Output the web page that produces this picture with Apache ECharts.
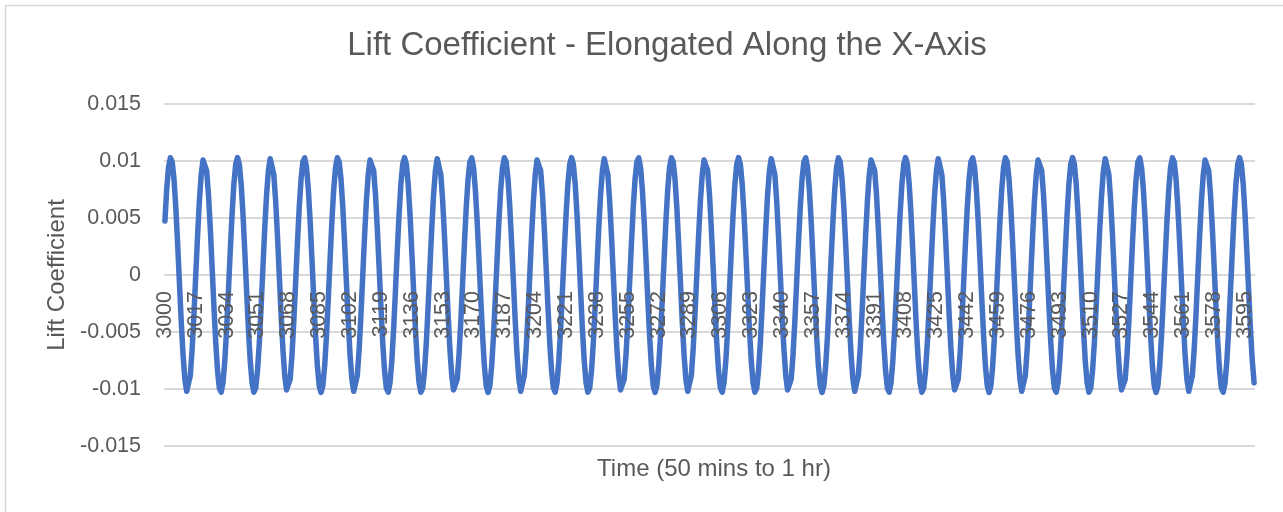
<!DOCTYPE html>
<html>
<head>
<meta charset="utf-8">
<script src="https://cdn.jsdelivr.net/npm/echarts@6/dist/echarts.min.js"></script>
<style>
html,body{margin:0;padding:0;background:#fff;}
#chart{width:1283px;height:512px;}
</style>
</head>
<body>
<div id="chart"></div>
<script>
const chartTitle = 'Lift Coefficient - Elongated Along the X-Axis';
const xAxisTitle = 'Time (50 mins to 1 hr)';
const yAxisTitle = 'Lift Coefficient';
const timeStart = 3000;
const timeEnd = 3600;
const yTickValues = [-0.015, -0.01, -0.005, 0, 0.005, 0.01, 0.015];
const yTickLabels = ['-0.015', '-0.01', '-0.005', '0', '0.005', '0.01', '0.015'];

// lift coefficient, one value per second from 3000 to 3600
const liftCoefficient = [
0.00474,0.00753,0.00945,0.01028,0.00992,0.00841,0.00594,0.00278,-0.00070,-0.00410,
-0.00703,-0.00915,-0.01020,-0.01008,-0.00880,-0.00650,-0.00345,0.00000,0.00345,0.00650,
0.00880,0.01008,0.01020,0.00915,0.00703,0.00410,0.00070,-0.00278,-0.00594,-0.00841,
-0.00992,-0.01028,-0.00945,-0.00753,-0.00474,-0.00140,0.00210,0.00535,0.00799,0.00971,
0.01030,0.00971,0.00799,0.00535,0.00210,-0.00140,-0.00474,-0.00753,-0.00945,-0.01028,
-0.00992,-0.00841,-0.00594,-0.00278,0.00070,0.00410,0.00703,0.00915,0.01020,0.01008,
0.00880,0.00650,0.00345,0.00000,-0.00345,-0.00650,-0.00880,-0.01008,-0.01020,-0.00915,
-0.00703,-0.00410,-0.00070,0.00278,0.00594,0.00841,0.00992,0.01028,0.00945,0.00753,
0.00474,0.00140,-0.00210,-0.00535,-0.00799,-0.00971,-0.01030,-0.00971,-0.00799,-0.00535,
-0.00210,0.00140,
0.00474,0.00753,0.00945,0.01028,0.00992,0.00841,0.00594,0.00278,-0.00070,-0.00410,
-0.00703,-0.00915,-0.01020,-0.01008,-0.00880,-0.00650,-0.00345,0.00000,0.00345,0.00650,
0.00880,0.01008,0.01020,0.00915,0.00703,0.00410,0.00070,-0.00278,-0.00594,-0.00841,
-0.00992,-0.01028,-0.00945,-0.00753,-0.00474,-0.00140,0.00210,0.00535,0.00799,0.00971,
0.01030,0.00971,0.00799,0.00535,0.00210,-0.00140,-0.00474,-0.00753,-0.00945,-0.01028,
-0.00992,-0.00841,-0.00594,-0.00278,0.00070,0.00410,0.00703,0.00915,0.01020,0.01008,
0.00880,0.00650,0.00345,0.00000,-0.00345,-0.00650,-0.00880,-0.01008,-0.01020,-0.00915,
-0.00703,-0.00410,-0.00070,0.00278,0.00594,0.00841,0.00992,0.01028,0.00945,0.00753,
0.00474,0.00140,-0.00210,-0.00535,-0.00799,-0.00971,-0.01030,-0.00971,-0.00799,-0.00535,
-0.00210,0.00140,
0.00474,0.00753,0.00945,0.01028,0.00992,0.00841,0.00594,0.00278,-0.00070,-0.00410,
-0.00703,-0.00915,-0.01020,-0.01008,-0.00880,-0.00650,-0.00345,0.00000,0.00345,0.00650,
0.00880,0.01008,0.01020,0.00915,0.00703,0.00410,0.00070,-0.00278,-0.00594,-0.00841,
-0.00992,-0.01028,-0.00945,-0.00753,-0.00474,-0.00140,0.00210,0.00535,0.00799,0.00971,
0.01030,0.00971,0.00799,0.00535,0.00210,-0.00140,-0.00474,-0.00753,-0.00945,-0.01028,
-0.00992,-0.00841,-0.00594,-0.00278,0.00070,0.00410,0.00703,0.00915,0.01020,0.01008,
0.00880,0.00650,0.00345,0.00000,-0.00345,-0.00650,-0.00880,-0.01008,-0.01020,-0.00915,
-0.00703,-0.00410,-0.00070,0.00278,0.00594,0.00841,0.00992,0.01028,0.00945,0.00753,
0.00474,0.00140,-0.00210,-0.00535,-0.00799,-0.00971,-0.01030,-0.00971,-0.00799,-0.00535,
-0.00210,0.00140,
0.00474,0.00753,0.00945,0.01028,0.00992,0.00841,0.00594,0.00278,-0.00070,-0.00410,
-0.00703,-0.00915,-0.01020,-0.01008,-0.00880,-0.00650,-0.00345,0.00000,0.00345,0.00650,
0.00880,0.01008,0.01020,0.00915,0.00703,0.00410,0.00070,-0.00278,-0.00594,-0.00841,
-0.00992,-0.01028,-0.00945,-0.00753,-0.00474,-0.00140,0.00210,0.00535,0.00799,0.00971,
0.01030,0.00971,0.00799,0.00535,0.00210,-0.00140,-0.00474,-0.00753,-0.00945,-0.01028,
-0.00992,-0.00841,-0.00594,-0.00278,0.00070,0.00410,0.00703,0.00915,0.01020,0.01008,
0.00880,0.00650,0.00345,0.00000,-0.00345,-0.00650,-0.00880,-0.01008,-0.01020,-0.00915,
-0.00703,-0.00410,-0.00070,0.00278,0.00594,0.00841,0.00992,0.01028,0.00945,0.00753,
0.00474,0.00140,-0.00210,-0.00535,-0.00799,-0.00971,-0.01030,-0.00971,-0.00799,-0.00535,
-0.00210,0.00140,
0.00474,0.00753,0.00945,0.01028,0.00992,0.00841,0.00594,0.00278,-0.00070,-0.00410,
-0.00703,-0.00915,-0.01020,-0.01008,-0.00880,-0.00650,-0.00345,0.00000,0.00345,0.00650,
0.00880,0.01008,0.01020,0.00915,0.00703,0.00410,0.00070,-0.00278,-0.00594,-0.00841,
-0.00992,-0.01028,-0.00945,-0.00753,-0.00474,-0.00140,0.00210,0.00535,0.00799,0.00971,
0.01030,0.00971,0.00799,0.00535,0.00210,-0.00140,-0.00474,-0.00753,-0.00945,-0.01028,
-0.00992,-0.00841,-0.00594,-0.00278,0.00070,0.00410,0.00703,0.00915,0.01020,0.01008,
0.00880,0.00650,0.00345,0.00000,-0.00345,-0.00650,-0.00880,-0.01008,-0.01020,-0.00915,
-0.00703,-0.00410,-0.00070,0.00278,0.00594,0.00841,0.00992,0.01028,0.00945,0.00753,
0.00474,0.00140,-0.00210,-0.00535,-0.00799,-0.00971,-0.01030,-0.00971,-0.00799,-0.00535,
-0.00210,0.00140,
0.00474,0.00753,0.00945,0.01028,0.00992,0.00841,0.00594,0.00278,-0.00070,-0.00410,
-0.00703,-0.00915,-0.01020,-0.01008,-0.00880,-0.00650,-0.00345,0.00000,0.00345,0.00650,
0.00880,0.01008,0.01020,0.00915,0.00703,0.00410,0.00070,-0.00278,-0.00594,-0.00841,
-0.00992,-0.01028,-0.00945,-0.00753,-0.00474,-0.00140,0.00210,0.00535,0.00799,0.00971,
0.01030,0.00971,0.00799,0.00535,0.00210,-0.00140,-0.00474,-0.00753,-0.00945,-0.01028,
-0.00992,-0.00841,-0.00594,-0.00278,0.00070,0.00410,0.00703,0.00915,0.01020,0.01008,
0.00880,0.00650,0.00345,0.00000,-0.00345,-0.00650,-0.00880,-0.01008,-0.01020,-0.00915,
-0.00703,-0.00410,-0.00070,0.00278,0.00594,0.00841,0.00992,0.01028,0.00945,0.00753,
0.00474,0.00140,-0.00210,-0.00535,-0.00799,-0.00971,-0.01030,-0.00971,-0.00799,-0.00535,
-0.00210,0.00140,
0.00474,0.00753,0.00945,0.01028,0.00992,0.00841,0.00594,0.00278,-0.00070,-0.00410,
-0.00703,-0.00915,-0.01020,-0.01008,-0.00880,-0.00650,-0.00345,0.00000,0.00345,0.00650,
0.00880,0.01008,0.01020,0.00915,0.00703,0.00410,0.00070,-0.00278,-0.00594,-0.00841,
-0.00992,-0.01028,-0.00945,-0.00753,-0.00474,-0.00140,0.00210,0.00535,0.00799,0.00971,
0.01030,0.00971,0.00799,0.00535,0.00210,-0.00140,-0.00474,-0.00753,-0.00945
];

const timeCategories = [];
for (let t = timeStart; t <= timeEnd; t++) timeCategories.push(String(t));

const FONT = 'Liberation Sans, Arial, sans-serif';
const TEXT = '#595959';
const GRID = '#D9D9D9';

const chart = echarts.init(document.getElementById('chart'), null, {renderer: 'canvas'});
chart.setOption({
  animation: false,
  backgroundColor: '#ffffff',
  graphic: [{
    type: 'rect', z: -10, silent: true,
    shape: {x: 5.5, y: 5.5, width: 1320, height: 540},
    style: {fill: 'none', stroke: GRID, lineWidth: 1.5}
  }],
  title: [{
    text: chartTitle,
    left: 662, top: 24, textAlign: 'center',
    textStyle: {fontFamily: FONT, fontSize: 33, fontWeight: 'normal', color: TEXT}
  }, {
    text: xAxisTitle,
    left: 709, top: 452, textAlign: 'center',
    textStyle: {fontFamily: FONT, fontSize: 24, fontWeight: 'normal', color: TEXT}
  }],
  grid: {left: 164, right: 28, top: 104, bottom: 66, containLabel: false},
  xAxis: {
    type: 'category',
    data: timeCategories,
    boundaryGap: true,
    position: 'bottom',
    offset: -171,
    z: 5,
    axisLine: {show: false, onZero: false},
    axisTick: {show: false},
    axisLabel: {
      interval: 16, rotate: 90, margin: 16,
      fontFamily: FONT, fontSize: 21.5, color: TEXT
    },
    splitLine: {show: false}
  },
  yAxis: {
    type: 'value',
    min: yTickValues[0], max: yTickValues[yTickValues.length - 1], interval: 0.005,
    name: yAxisTitle, nameLocation: 'middle', nameGap: 95,
    nameTextStyle: {fontFamily: FONT, fontSize: 24, color: TEXT},
    axisLine: {show: false},
    axisTick: {show: false},
    axisLabel: {
      margin: 23, fontFamily: FONT, fontSize: 21.5, color: TEXT,
      formatter: function (v) {
        for (let i = 0; i < yTickValues.length; i++) {
          if (Math.abs(v - yTickValues[i]) < 1e-9) return yTickLabels[i];
        }
        return '';
      }
    },
    splitLine: {lineStyle: {color: GRID, width: 1.8}}
  },
  series: [{
    type: 'line',
    data: liftCoefficient,
    showSymbol: false,
    symbol: 'none',
    smooth: false,
    lineStyle: {color: '#4472C4', width: 5.5, cap: 'round', join: 'round'},
    z: 2
  }]
});
</script>
</body>
</html>
